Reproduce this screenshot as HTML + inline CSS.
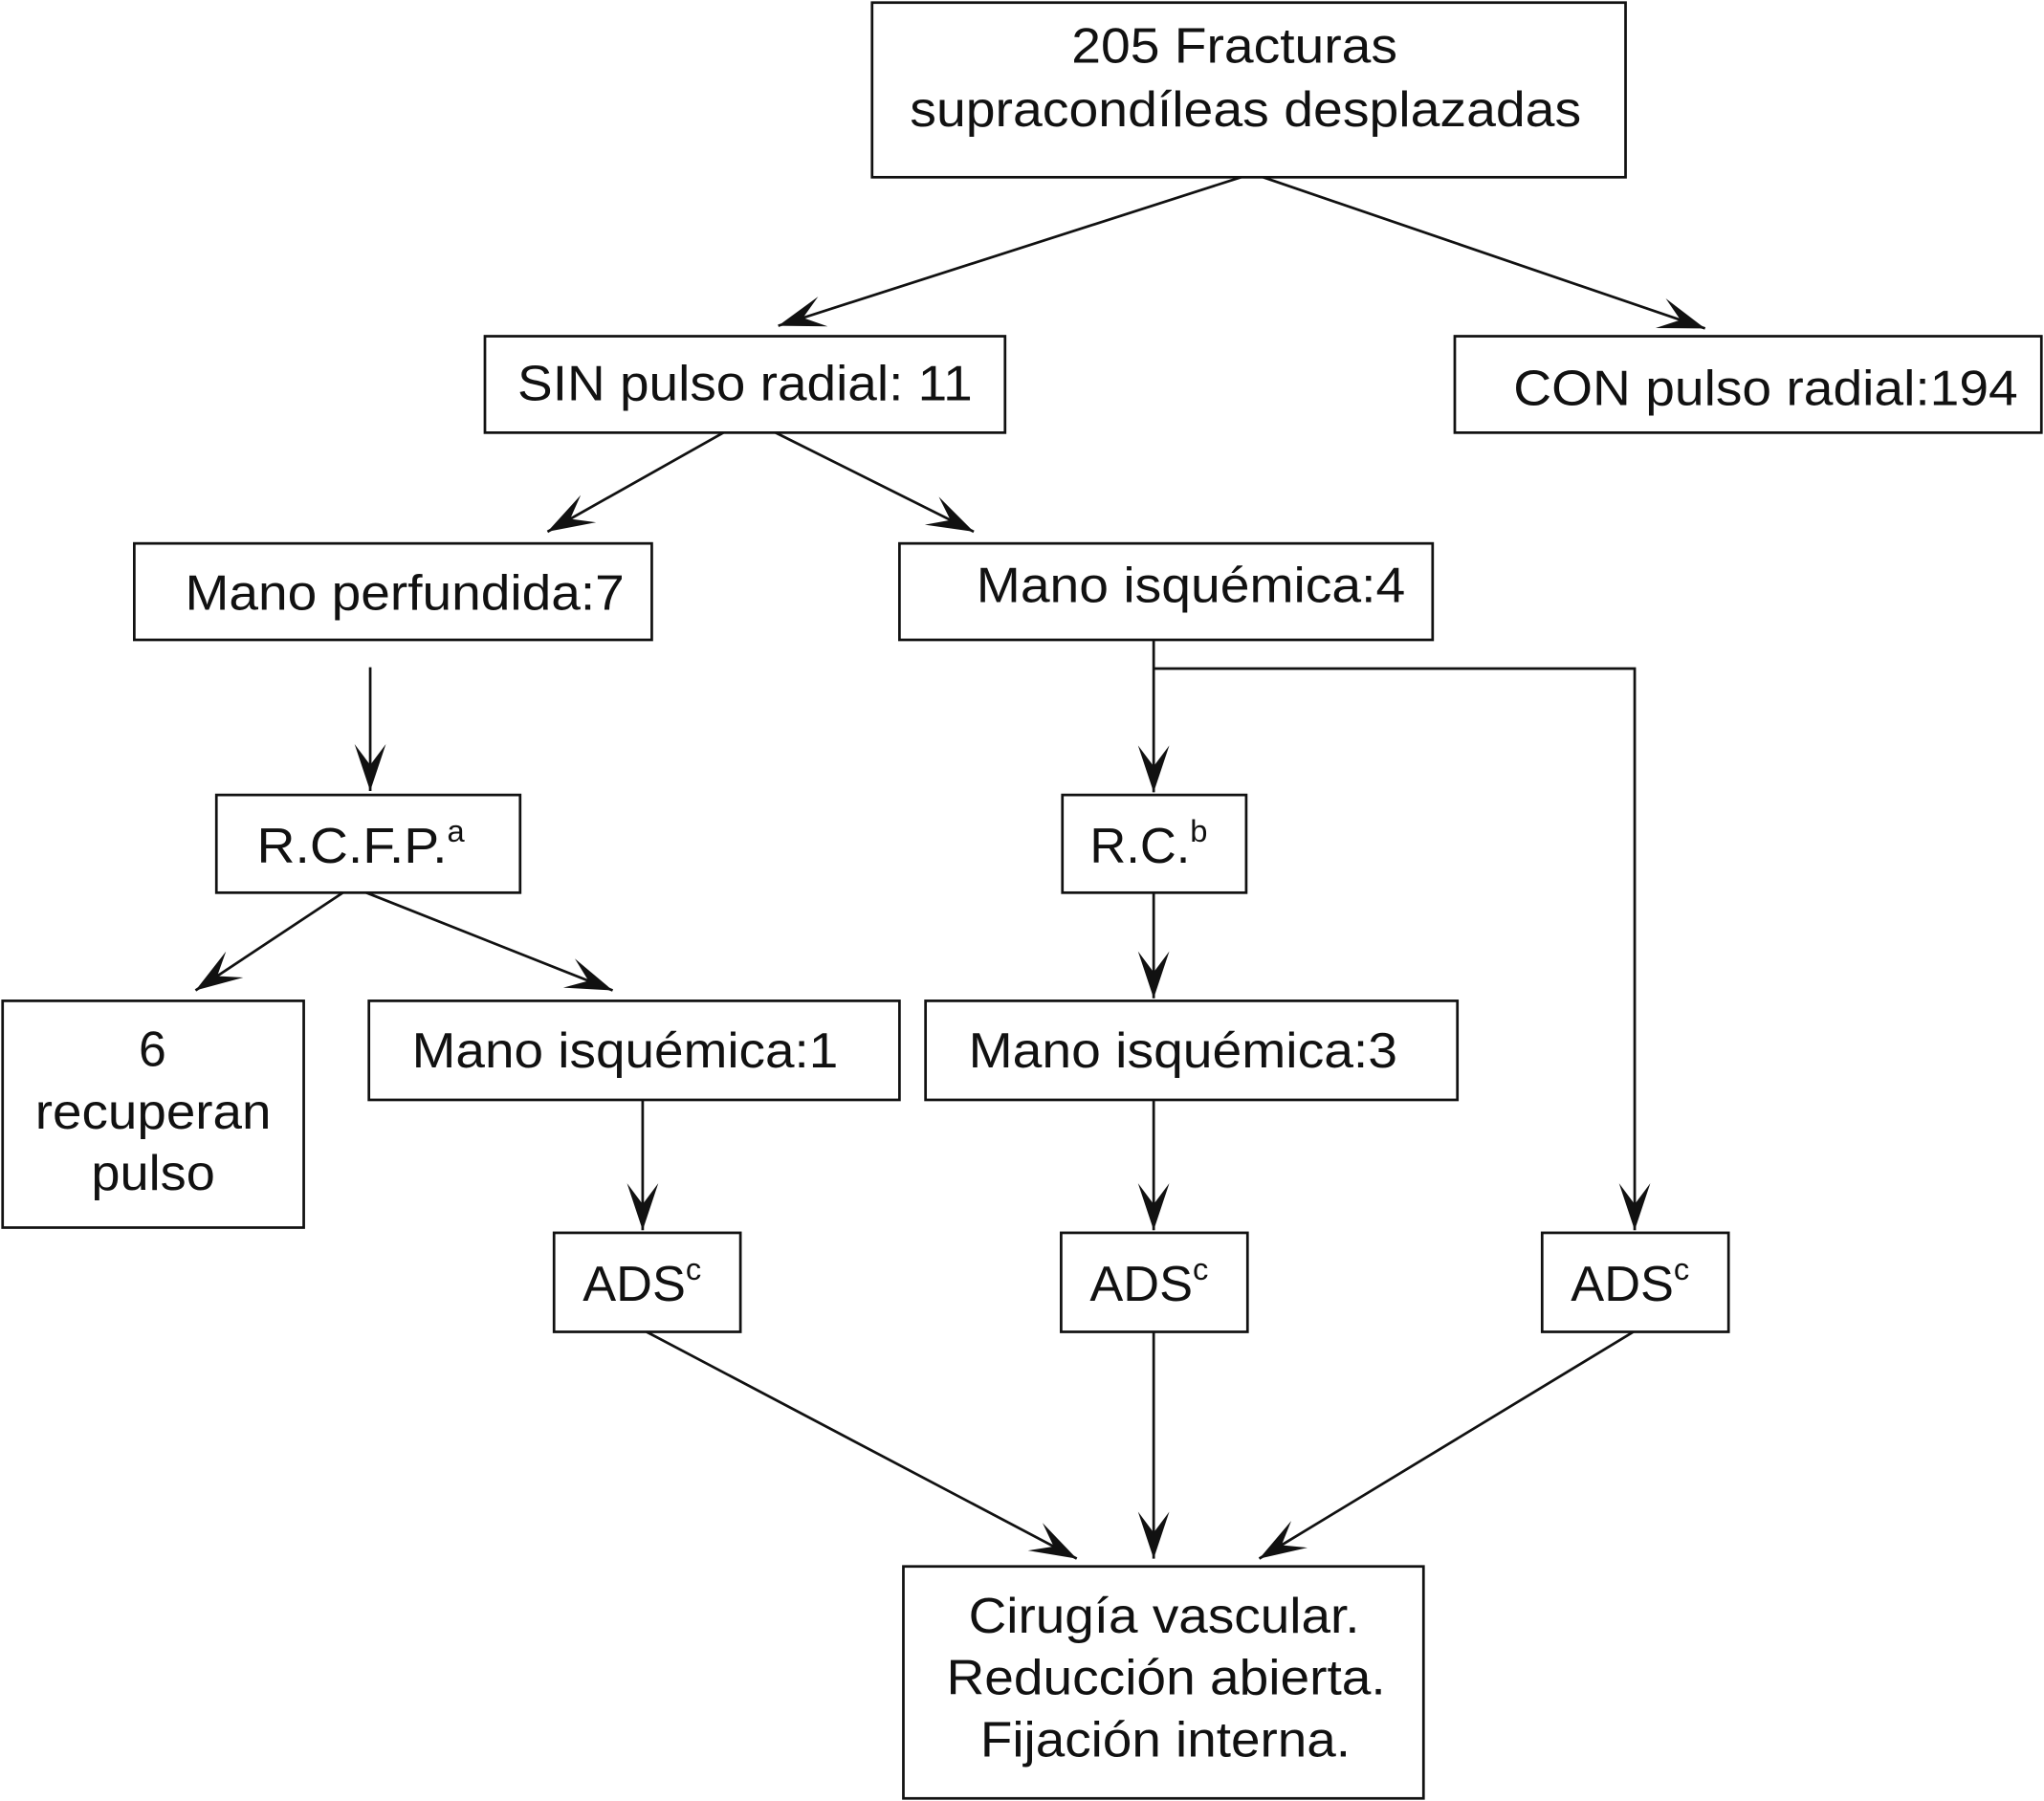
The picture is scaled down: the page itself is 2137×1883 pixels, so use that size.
<!DOCTYPE html>
<html><head><meta charset="utf-8"><style>html,body{margin:0;padding:0;background:#fff}svg{display:block}text{font-family:"Liberation Sans",Arial,sans-serif}</style></head>
<body>
<svg width="2137" height="1883" viewBox="0 0 1568 1382" preserveAspectRatio="none" xmlns="http://www.w3.org/2000/svg">
<defs>
<marker id="a" markerUnits="userSpaceOnUse" markerWidth="40" markerHeight="30" refX="36" refY="12" orient="auto" viewBox="0 0 40 24">
<path d="M36,12 L0,0 L16,12 L0,24 Z" fill="#111"/>
</marker>
</defs>
<g fill="none" stroke="#111" stroke-width="2">
<rect x="669" y="2" width="578" height="134"/>
<rect x="372" y="258" width="399" height="74"/>
<rect x="1116" y="258" width="450" height="74"/>
<rect x="103" y="417" width="397" height="74"/>
<rect x="690" y="417" width="409" height="74"/>
<rect x="166" y="610" width="233" height="75"/>
<rect x="815" y="610" width="141" height="75"/>
<rect x="2" y="768" width="231" height="174"/>
<rect x="283" y="768" width="407" height="76"/>
<rect x="710" y="768" width="408" height="76"/>
<rect x="425" y="946" width="143" height="76"/>
<rect x="814" y="946" width="143" height="76"/>
<rect x="1183" y="946" width="143" height="76"/>
<rect x="693" y="1202" width="399" height="178"/>
</g>
<g stroke="#111" stroke-width="2" fill="none" marker-end="url(#a)">
<line x1="952" y1="136" x2="597" y2="250"/>
<line x1="969" y1="136" x2="1308" y2="252"/>
<line x1="555" y1="332" x2="420" y2="408"/>
<line x1="595" y1="332" x2="747" y2="408"/>
<line x1="284" y1="512" x2="284" y2="607"/>
<line x1="885" y1="491" x2="885" y2="608"/>
<polyline points="885,513 1254,513 1254,944"/>
<line x1="263" y1="685" x2="150" y2="760"/>
<line x1="281" y1="685" x2="470" y2="760"/>
<line x1="885" y1="685" x2="885" y2="766"/>
<line x1="493" y1="844" x2="493" y2="944"/>
<line x1="885" y1="844" x2="885" y2="944"/>
<line x1="496" y1="1022" x2="826" y2="1196"/>
<line x1="885" y1="1022" x2="885" y2="1196"/>
<line x1="1253" y1="1022" x2="966" y2="1196"/>
</g>
<g font-size="38" fill="#111" lengthAdjust="spacingAndGlyphs">
<text x="822" y="48" textLength="250" lengthAdjust="spacingAndGlyphs">205 Fracturas</text>
<text x="698" y="97" textLength="515" lengthAdjust="spacingAndGlyphs">supracondíleas desplazadas</text>
<text x="397" y="307" textLength="349" lengthAdjust="spacingAndGlyphs">SIN pulso radial: 11</text>
<text x="1161" y="311" textLength="387" lengthAdjust="spacingAndGlyphs">CON pulso radial:194</text>
<text x="142" y="468" textLength="337" lengthAdjust="spacingAndGlyphs">Mano perfundida:7</text>
<text x="749" y="462" textLength="329" lengthAdjust="spacingAndGlyphs">Mano isquémica:4</text>
<text x="197" y="662"><tspan textLength="146" lengthAdjust="spacingAndGlyphs">R.C.F.P.</tspan><tspan font-size="24" dy="-16">a</tspan></text>
<text x="836" y="662"><tspan textLength="77" lengthAdjust="spacingAndGlyphs">R.C.</tspan><tspan font-size="24" dy="-16">b</tspan></text>
<text x="117" y="818" text-anchor="middle">6</text>
<text x="27" y="866" textLength="181" lengthAdjust="spacingAndGlyphs">recuperan</text>
<text x="70" y="913" textLength="95" lengthAdjust="spacingAndGlyphs">pulso</text>
<text x="316" y="819" textLength="327" lengthAdjust="spacingAndGlyphs">Mano isquémica:1</text>
<text x="743" y="819" textLength="329" lengthAdjust="spacingAndGlyphs">Mano isquémica:3</text>
<text x="447" y="998"><tspan textLength="79" lengthAdjust="spacingAndGlyphs">ADS</tspan><tspan font-size="24" dy="-16">c</tspan></text>
<text x="836" y="998"><tspan textLength="79" lengthAdjust="spacingAndGlyphs">ADS</tspan><tspan font-size="24" dy="-16">c</tspan></text>
<text x="1205" y="998"><tspan textLength="79" lengthAdjust="spacingAndGlyphs">ADS</tspan><tspan font-size="24" dy="-16">c</tspan></text>
<text x="743" y="1253" textLength="300" lengthAdjust="spacingAndGlyphs">Cirugía vascular.</text>
<text x="726" y="1300" textLength="337" lengthAdjust="spacingAndGlyphs">Reducción abierta.</text>
<text x="752" y="1348" textLength="284" lengthAdjust="spacingAndGlyphs">Fijación interna.</text>
</g>
</svg>
</body></html>
